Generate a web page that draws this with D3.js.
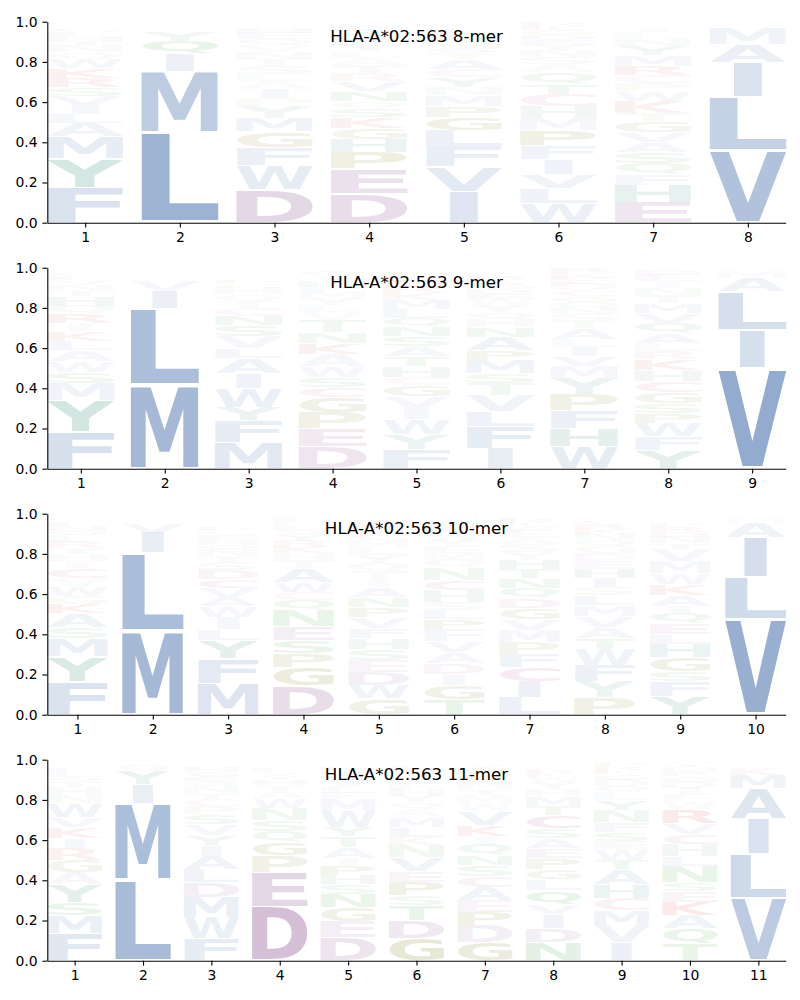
<html>
<head>
<script src="https://cdn.jsdelivr.net/npm/d3@7"></script>
<style>
  body { margin: 0; background: #fff; }
  text { font-family: "DejaVu Sans"; }
</style>
</head>
<body>
<script>
// letter frequencies per position, listed from the bottom of the stack upwards
var titles = ["HLA-A*02:563 8-mer", "HLA-A*02:563 9-mer", "HLA-A*02:563 10-mer", "HLA-A*02:563 11-mer"];
var yTicks = [0, 0.2, 0.4, 0.6, 0.8, 1.0];

var mer8 = [
  [["F",.175],["Y",.145],["M",.11],["A",.065],["L",.045],["I",.045],["V",.045],["S",.045],["R",.045],["K",.05],["W",.045],["Q",.035],["N",.03],["T",.025],["H",.025],["E",.02],["G",.02],["P",.015],["D",.01],["C",.005]],
  [["L",.45],["M",.305],["I",.085],["Q",.065],["Y",.05],["F",.006],["A",.006],["V",.005],["W",.004],["S",.004],["T",.003],["N",.003],["H",.003],["G",.003],["P",.002],["K",.002],["R",.002],["E",.001],["D",.001]],
  [["D",.165],["W",.12],["F",.09],["G",.08],["M",.065],["Y",.06],["P",.04],["I",.045],["A",.04],["L",.035],["S",.04],["T",.035],["N",.035],["V",.035],["Q",.03],["E",.03],["H",.025],["R",.015],["K",.01],["C",.005]],
  [["D",.145],["E",.125],["P",.08],["H",.065],["G",.055],["K",.055],["S",.045],["Q",.035],["N",.05],["V",.05],["R",.04],["T",.04],["A",.035],["L",.035],["Y",.03],["F",.03],["M",.025],["I",.025],["W",.02],["C",.015]],
  [["I",.155],["V",.125],["F",.1],["L",.08],["G",.065],["P",.055],["M",.055],["N",.04],["Y",.05],["C",.04],["A",.05],["T",.03],["S",.03],["Q",.025],["H",.025],["W",.02],["E",.02],["D",.015],["K",.01],["R",.01]],
  [["W",.095],["L",.075],["V",.07],["I",.075],["F",.07],["P",.075],["M",.06],["H",.06],["C",.06],["T",.05],["Q",.06],["A",.04],["S",.035],["N",.03],["Y",.03],["E",.025],["D",.025],["G",.025],["K",.02],["R",.02]],
  [["E",.1],["H",.085],["F",.055],["Q",.055],["S",.055],["A",.05],["V",.05],["G",.055],["T",.04],["K",.06],["W",.05],["P",.04],["C",.04],["R",.045],["M",.055],["Y",.045],["N",.035],["L",.035],["I",.025],["D",.015]],
  [["V",.358],["L",.267],["I",.17],["A",.09],["M",.08],["F",.008],["Y",.006],["T",.005],["K",.004],["C",.003],["W",.003],["S",.002],["G",.002],["P",.002]]
];

var mer9 = [
  [["F",.185],["Y",.155],["M",.085],["S",.055],["W",.055],["A",.055],["L",.045],["K",.05],["I",.04],["R",.045],["Q",.04],["H",.05],["T",.03],["N",.025],["V",.025],["E",.02],["G",.02],["P",.01],["D",.005],["C",.005]],
  [["M",.415],["L",.38],["I",.09],["V",.055],["Q",.012],["S",.008],["T",.006],["F",.006],["A",.005],["Y",.005],["W",.004],["N",.003],["G",.003],["P",.002],["H",.002],["K",.002],["R",.001],["E",.001]],
  [["M",.13],["F",.11],["Y",.065],["W",.095],["I",.075],["A",.075],["L",.05],["V",.06],["S",.055],["N",.045],["C",.04],["T",.035],["Q",.035],["H",.03],["G",.02],["P",.02],["K",.015],["R",.015],["D",.01],["E",.01]],
  [["D",.11],["E",.09],["P",.08],["G",.075],["C",.05],["S",.05],["W",.055],["A",.06],["K",.055],["N",.055],["T",.06],["V",.04],["L",.035],["Y",.035],["M",.03],["F",.03],["H",.025],["I",.025],["Q",.025],["R",.015]],
  [["F",.095],["Y",.075],["W",.075],["I",.06],["V",.055],["G",.055],["C",.04],["H",.055],["T",.05],["A",.05],["S",.05],["N",.045],["Q",.045],["L",.045],["M",.045],["K",.035],["R",.03],["E",.03],["D",.025],["P",.02]],
  [["I",.1],["F",.11],["L",.075],["V",.08],["T",.06],["S",.05],["M",.065],["P",.05],["A",.065],["N",.05],["H",.04],["Q",.035],["Y",.035],["W",.03],["E",.025],["D",.025],["G",.025],["K",.025],["R",.02],["C",.01]],
  [["W",.11],["H",.09],["F",.09],["P",.08],["Y",.08],["M",.06],["V",.05],["I",.045],["L",.04],["A",.055],["T",.035],["S",.035],["N",.03],["Q",.03],["G",.03],["C",.03],["D",.03],["E",.03],["K",.025],["R",.025]],
  [["Y",.09],["F",.07],["W",.065],["P",.05],["S",.05],["G",.055],["C",.055],["H",.055],["K",.055],["R",.04],["L",.04],["A",.05],["Q",.05],["V",.05],["M",.05],["T",.04],["N",.035],["I",.035],["E",.03],["D",.025]],
  [["V",.5],["I",.19],["L",.19],["A",.07],["M",.03],["F",.005],["T",.004],["K",.003],["Y",.003],["S",.002],["C",.002],["W",.001]]
];

var mer10 = [
  [["F",.165],["Y",.125],["M",.09],["S",.055],["A",.07],["K",.045],["G",.04],["W",.05],["V",.04],["C",.05],["I",.035],["H",.035],["T",.03],["R",.03],["L",.03],["Q",.025],["N",.025],["E",.02],["P",.015],["D",.015]],
  [["M",.415],["L",.39],["I",.1],["V",.05],["Q",.01],["S",.006],["T",.005],["F",.004],["A",.004],["Y",.004],["W",.003],["N",.003],["G",.002],["H",.002],["P",.001],["K",.001]],
  [["M",.155],["F",.125],["Y",.09],["L",.055],["I",.06],["W",.055],["A",.045],["V",.045],["C",.045],["D",.045],["S",.04],["T",.03],["N",.03],["Q",.025],["H",.025],["E",.025],["G",.02],["P",.02],["K",.015],["R",.015]],
  [["D",.145],["G",.09],["P",.07],["S",.065],["E",.07],["N",.08],["Q",.05],["C",.04],["W",.05],["A",.07],["T",.04],["H",.035],["K",.03],["R",.03],["Y",.03],["V",.025],["L",.025],["M",.02],["F",.02],["I",.015]],
  [["G",.08],["W",.065],["D",.065],["E",.06],["S",.055],["H",.055],["F",.05],["V",.055],["P",.05],["N",.05],["A",.05],["I",.04],["T",.04],["Q",.04],["Y",.04],["L",.04],["M",.035],["C",.035],["K",.03],["R",.03]],
  [["T",.075],["G",.07],["I",.055],["D",.055],["A",.055],["V",.055],["F",.06],["P",.05],["L",.045],["S",.04],["H",.06],["C",.05],["N",.06],["Q",.04],["M",.035],["E",.035],["Y",.03],["W",.03],["K",.03],["R",.025]],
  [["L",.085],["I",.08],["C",.07],["F",.065],["P",.06],["M",.06],["V",.055],["G",.055],["D",.05],["Q",.05],["N",.05],["T",.045],["H",.045],["Y",.04],["S",.04],["A",.035],["E",.03],["W",.025],["K",.02],["R",.02]],
  [["P",.085],["Y",.08],["F",.08],["W",.08],["T",.055],["A",.055],["V",.055],["M",.055],["L",.05],["S",.04],["I",.045],["H",.045],["E",.04],["D",.04],["G",.035],["Q",.03],["N",.03],["K",.025],["R",.025],["C",.02]],
  [["Y",.09],["F",.075],["S",.05],["G",.07],["H",.065],["L",.05],["E",.055],["Q",.05],["I",.035],["A",.055],["K",.055],["W",.055],["M",.06],["V",.06],["T",.03],["N",.03],["D",.025],["R",.025],["P",.02],["C",.015]],
  [["V",.475],["L",.21],["I",.195],["A",.075],["M",.02],["K",.008],["F",.005],["T",.004],["S",.003],["Y",.003],["C",.002]]
];

var mer11 = [
  [["F",.135],["M",.09],["S",.065],["Y",.09],["A",.06],["G",.06],["R",.06],["I",.05],["K",.055],["V",.05],["W",.07],["N",.04],["H",.04],["T",.025],["Q",.025],["L",.025],["E",.02],["D",.015],["P",.01],["C",.01]],
  [["L",.4],["M",.38],["I",.095],["Y",.065],["Q",.035],["F",.005],["A",.004],["V",.004],["S",.003],["T",.003],["W",.002],["N",.002],["H",.001],["G",.001]],
  [["F",.11],["W",.105],["M",.1],["D",.075],["L",.065],["A",.065],["I",.055],["Y",.05],["V",.055],["S",.05],["P",.04],["C",.035],["T",.03],["N",.03],["Q",.025],["E",.025],["G",.025],["H",.025],["K",.015],["R",.015]],
  [["D",.27],["E",.17],["P",.085],["G",.065],["Q",.055],["S",.055],["N",.06],["W",.05],["A",.035],["T",.03],["H",.025],["Y",.02],["V",.02],["L",.02],["R",.01],["K",.01],["M",.005],["F",.005],["I",.005],["C",.005]],
  [["D",.115],["E",.08],["G",.07],["N",.065],["S",.05],["H",.045],["P",.045],["I",.04],["A",.055],["T",.055],["Y",.045],["W",.08],["M",.06],["F",.03],["L",.03],["V",.03],["Q",.03],["K",.02],["R",.02],["C",.015]],
  [["G",.11],["D",.09],["T",.075],["S",.05],["P",.065],["E",.055],["V",.07],["N",.06],["K",.04],["L",.05],["M",.05],["A",.04],["Q",.035],["Y",.03],["H",.03],["F",.03],["W",.025],["I",.025],["R",.025],["C",.02]],
  [["G",.09],["D",.085],["P",.065],["E",.06],["A",.065],["C",.055],["S",.055],["N",.05],["Q",.055],["I",.04],["K",.055],["V",.07],["W",.04],["M",.04],["T",.03],["H",.03],["L",.025],["F",.025],["R",.02],["Y",.02]],
  [["N",.09],["D",.07],["I",.07],["V",.05],["Q",.07],["L",.055],["G",.05],["P",.055],["E",.05],["A",.05],["S",.05],["C",.065],["T",.045],["M",.05],["H",.035],["Y",.035],["W",.025],["K",.02],["R",.02],["F",.015]],
  [["I",.09],["V",.085],["M",.075],["C",.06],["H",.07],["A",.075],["T",.045],["W",.055],["E",.04],["S",.045],["F",.05],["N",.06],["Y",.05],["L",.04],["Q",.03],["D",.03],["G",.03],["K",.02],["R",.02],["P",.02]],
  [["T",.085],["Q",.075],["A",.065],["K",.065],["E",.055],["S",.045],["N",.08],["L",.05],["H",.06],["C",.05],["V",.055],["R",.07],["W",.04],["F",.035],["I",.03],["D",.03],["G",.03],["P",.025],["M",.02],["Y",.02]],
  [["V",.31],["L",.22],["I",.175],["A",.15],["M",.07],["K",.03],["F",.01],["T",.008],["S",.006],["Y",.005],["C",.004],["R",.003],["G",.003],["W",.002]]
];

var panels = [mer8, mer9, mer10, mer11];

// colour per residue group
var groupColor = {
  AILMFWV: "rgb(100,135,185)",
  DE: "rgb(144,86,147)",
  HY: "rgb(51,138,117)",
  GP: "rgb(110,110,0)",
  STNQ: "rgb(40,150,40)",
  KR: "rgb(210,40,40)",
  C: "rgb(180,60,140)"
};
var letterColor = {};
Object.keys(groupColor).forEach(function (g) {
  g.split("").forEach(function (c) { letterColor[c] = groupColor[g]; });
});

var W = 800, H = 1000;
var left = 47.3, right = 785.7;
var top0 = 21.7, panelH = 201, step = 246;

var svg = d3.select("body").append("svg").attr("width", W).attr("height", H);

// tight glyph bounds, measured once on a canvas
var ctx = document.createElement("canvas").getContext("2d");
ctx.font = "bold 100px 'DejaVu Sans'";
var boxes = {};
function box(ch) {
  if (!boxes[ch]) {
    var m = ctx.measureText(ch);
    boxes[ch] = { l: m.actualBoundingBoxLeft, r: m.actualBoundingBoxRight,
                  a: m.actualBoundingBoxAscent, d: m.actualBoundingBoxDescent };
  }
  return boxes[ch];
}
var eBox = box("E");

panels.forEach(function (cols, pi) {
  var n = cols.length;
  var y0 = top0 + pi * step;
  var x = d3.scaleLinear().domain([0.6, n + 0.4]).range([left, right]);
  var y = d3.scaleLinear().domain([0, 1]).range([y0 + panelH, y0]);
  var g = svg.append("g");

  var glyphs = [];
  cols.forEach(function (col, ci) {
    var base = 0;
    col.forEach(function (d) {
      // sub-pixel glyphs are invisible, skip them
      if (y(0) - y(d[1] * 0.95) >= 0.6) {
        glyphs.push({ ch: d[0], p: d[1], pos: ci + 1, lo: base });
      }
      base += d[1];
    });
  });

  g.selectAll("text.glyph")
    .data(glyphs)
    .enter()
    .append("text")
    .attr("class", "glyph")
    .attr("font-size", 100)
    .attr("font-weight", "bold")
    .attr("fill", function (d) { return letterColor[d.ch]; })
    .attr("fill-opacity", function (d) { return Math.min(1, d.p * 1.4); })
    .text(function (d) { return d.ch; })
    .attr("transform", function (d) {
      var b = box(d.ch);
      var x0 = x(d.pos - 0.405), x1 = x(d.pos + 0.405);
      var wBox = x1 - x0;
      var yTop = y(d.lo + d.p * 0.975), yBot = y(d.lo + d.p * 0.025);
      var sx = Math.min(wBox / (b.l + b.r), wBox / (eBox.l + eBox.r));
      var sy = (yBot - yTop) / (b.a + b.d);
      var tx = x0 + (wBox - (b.l + b.r) * sx) / 2 + b.l * sx;
      var ty = yTop + b.a * sy;
      return "translate(" + tx + "," + ty + ") scale(" + sx + "," + sy + ")";
    });

  var xAxis = d3.axisBottom(x)
    .tickValues(d3.range(1, n + 1))
    .tickFormat(d3.format("d"))
    .tickSize(4.9).tickSizeOuter(0).tickPadding(4.9);
  var yAxis = d3.axisLeft(y)
    .tickValues(yTicks)
    .tickFormat(d3.format(".1f"))
    .tickSize(4.9).tickSizeOuter(0).tickPadding(4.9);

  g.append("g").attr("transform", "translate(0," + (y0 + panelH) + ")").call(xAxis);
  g.append("g").attr("transform", "translate(" + left + ",0)").call(yAxis);
  g.selectAll(".domain, .tick line").attr("stroke", "#000").attr("stroke-width", 1.1);
  g.selectAll(".tick text").attr("font-size", 13.9).attr("font-family", "DejaVu Sans").attr("fill", "#000");

  g.append("text")
    .attr("x", (left + right) / 2)
    .attr("y", y0 + 20.5)
    .attr("text-anchor", "middle")
    .attr("font-size", 16.7)
    .attr("fill", "#000")
    .text(titles[pi]);
});
</script>
</body>
</html>
